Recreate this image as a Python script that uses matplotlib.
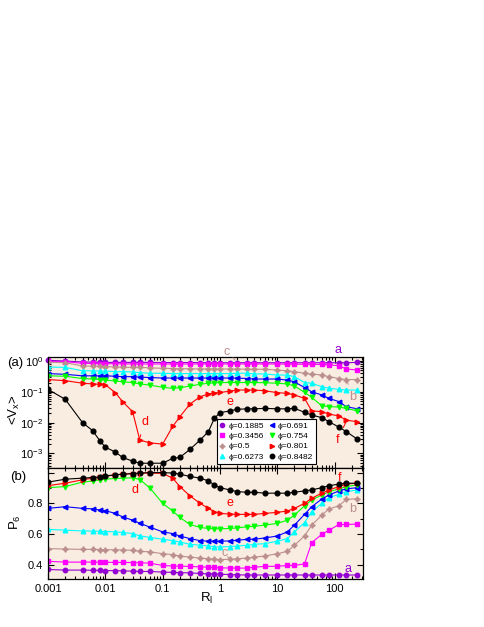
import numpy as np
import matplotlib
matplotlib.use('Agg')
import matplotlib.pyplot as plt
from matplotlib.lines import Line2D
from matplotlib.ticker import FixedLocator, FixedFormatter, LogLocator

plt.rcParams['font.family'] = ['Liberation Sans', 'DejaVu Sans']
plt.rcParams['mathtext.fontset'] = 'custom'
plt.rcParams['mathtext.rm'] = 'Liberation Sans'
plt.rcParams['mathtext.it'] = 'Liberation Sans'

# R_l values (shared by all series)
r_l = [0.001, 0.002, 0.004, 0.006, 0.008, 0.01, 0.015, 0.02, 0.03, 0.04, 0.06,
       0.1, 0.15, 0.2, 0.3, 0.45, 0.63, 0.8, 1, 1.5, 2, 3, 4, 6, 10, 15, 20,
       30, 40, 60, 80, 120, 160, 250]

phi_labels = ['ϕ=0.1885', 'ϕ=0.3456', 'ϕ=0.5', 'ϕ=0.6273',
              'ϕ=0.691', 'ϕ=0.754', 'ϕ=0.801', 'ϕ=0.8482']

# <V_x> (top panel)
vx_01885 = [1.05, 1.0, 0.93, 0.92, 0.91, 0.9, 0.9, 0.9, 0.9, 0.9, 0.9, 0.89, 0.89, 0.89, 0.89, 0.89, 0.88,
            0.88, 0.88, 0.88, 0.88, 0.88, 0.88, 0.88, 0.88, 0.88, 0.88, 0.88, 0.88, 0.88, 0.88, 0.88, 0.88, 0.9]
vx_03456 = [0.97, 0.95, 0.84, 0.83, 0.82, 0.82, 0.81, 0.81, 0.8, 0.8, 0.8, 0.8, 0.8, 0.8, 0.8, 0.8, 0.8,
            0.8, 0.8, 0.8, 0.8, 0.8, 0.8, 0.8, 0.8, 0.79, 0.79, 0.78, 0.78, 0.77, 0.75, 0.7, 0.55, 0.51]
vx_05 = [0.92, 0.88, 0.69, 0.68, 0.67, 0.66, 0.64, 0.63, 0.62, 0.62, 0.6, 0.58, 0.57, 0.56, 0.56, 0.55, 0.55,
         0.55, 0.55, 0.55, 0.55, 0.54, 0.54, 0.54, 0.51, 0.48, 0.45, 0.40, 0.38, 0.35, 0.31, 0.27, 0.25, 0.25]
vx_06273 = [0.64, 0.62, 0.48, 0.48, 0.47, 0.47, 0.45, 0.45, 0.44, 0.42, 0.40, 0.40, 0.39, 0.39, 0.39, 0.39, 0.39,
            0.39, 0.39, 0.39, 0.40, 0.40, 0.38, 0.38, 0.35, 0.35, 0.31, 0.20, 0.19, 0.146, 0.13, 0.12, 0.114, 0.114]
vx_0691 = [0.39, 0.37, 0.33, 0.33, 0.33, 0.33, 0.32, 0.31, 0.31, 0.30, 0.29, 0.28, 0.28, 0.28, 0.28, 0.28, 0.28,
           0.28, 0.28, 0.28, 0.28, 0.27, 0.26, 0.26, 0.26, 0.24, 0.21, 0.137, 0.10, 0.079, 0.061, 0.048, 0.033, 0.028]
vx_0754 = [0.33, 0.32, 0.27, 0.26, 0.25, 0.24, 0.225, 0.21, 0.2, 0.18, 0.165, 0.14, 0.13, 0.135, 0.154, 0.175, 0.19,
           0.195, 0.2, 0.2, 0.2, 0.2, 0.2, 0.197, 0.19, 0.18, 0.154, 0.096, 0.066, 0.035, 0.033, 0.032, 0.029, 0.024]
vx_0801 = [0.25, 0.23, 0.19, 0.18, 0.175, 0.17, 0.093, 0.048, 0.0225, 0.0027, 0.0022, 0.002, 0.0075, 0.0155, 0.040,
           0.069, 0.085, 0.092, 0.095, 0.105, 0.115, 0.114, 0.114, 0.108, 0.094, 0.089, 0.079, 0.061, 0.024, 0.0226,
           0.019, 0.0163, 0.012, 0.0107]
vx_08482 = [0.12, 0.057, 0.01, 0.0055, 0.0026, 0.0016, 0.0011, 7.4e-4, 5.6e-4, 4.8e-4, 4.8e-4, 4.8e-4, 6.9e-4,
            7.4e-4, 1.35e-3, 2.7e-3, 5.1e-3, 0.0138, 0.021, 0.024, 0.027, 0.028, 0.028, 0.029, 0.028, 0.028, 0.029,
            0.0216, 0.0176, 0.0145, 0.0107, 0.0071, 0.0051, 0.0029]

# P_6 (bottom panel)
p6_01885 = [0.369, 0.365, 0.365, 0.364, 0.363, 0.362, 0.361, 0.36, 0.358, 0.356, 0.356, 0.352, 0.35, 0.348, 0.347,
            0.343, 0.34, 0.34, 0.338, 0.336, 0.334, 0.333, 0.333, 0.333, 0.333, 0.333, 0.333, 0.333, 0.333, 0.333,
            0.333, 0.333, 0.333, 0.333]
p6_03456 = [0.422, 0.417, 0.417, 0.417, 0.416, 0.416, 0.415, 0.415, 0.414, 0.413, 0.41, 0.395, 0.392, 0.39, 0.389,
            0.386, 0.384, 0.382, 0.38, 0.378, 0.378, 0.378, 0.384, 0.389, 0.39, 0.395, 0.395, 0.406, 0.544, 0.598,
            0.625, 0.662, 0.662, 0.665]
p6_05 = [0.505, 0.502, 0.5, 0.5, 0.499, 0.498, 0.497, 0.496, 0.494, 0.487, 0.484, 0.472, 0.466, 0.456, 0.45, 0.443,
         0.439, 0.435, 0.434, 0.435, 0.439, 0.443, 0.45, 0.456, 0.472, 0.487, 0.527, 0.587, 0.658, 0.723, 0.763,
         0.784, 0.825, 0.83]
p6_06273 = [0.63, 0.625, 0.62, 0.619, 0.618, 0.616, 0.614, 0.61, 0.603, 0.588, 0.578, 0.566, 0.557, 0.548, 0.533,
            0.527, 0.522, 0.516, 0.516, 0.518, 0.522, 0.527, 0.533, 0.537, 0.553, 0.57, 0.614, 0.675, 0.745, 0.80,
            0.837, 0.859, 0.876, 0.887]
p6_0691 = [0.767, 0.778, 0.767, 0.764, 0.756, 0.752, 0.734, 0.712, 0.69, 0.67, 0.645, 0.614, 0.603, 0.587, 0.57,
           0.557, 0.553, 0.553, 0.553, 0.555, 0.559, 0.566, 0.566, 0.574, 0.587, 0.614, 0.658, 0.728, 0.778, 0.828,
           0.854, 0.881, 0.894, 0.902]
p6_0754 = [0.902, 0.909, 0.938, 0.945, 0.953, 0.957, 0.962, 0.964, 0.966, 0.955, 0.90, 0.80, 0.75, 0.708, 0.662,
           0.643, 0.636, 0.634, 0.634, 0.636, 0.64, 0.647, 0.65, 0.658, 0.669, 0.69, 0.723, 0.784, 0.822, 0.854,
           0.876, 0.894, 0.909, 0.92]
p6_0801 = [0.915, 0.931, 0.953, 0.964, 0.97, 0.975, 0.986, 0.99, 0.994, 0.997, 0.997, 0.995, 0.964, 0.909, 0.848,
           0.80, 0.767, 0.745, 0.734, 0.73, 0.728, 0.728, 0.728, 0.734, 0.741, 0.75, 0.767, 0.80, 0.833, 0.866,
           0.887, 0.909, 0.925, 0.931]
p6_08482 = [0.938, 0.957, 0.964, 0.968, 0.972, 0.979, 0.985, 0.99, 0.993, 0.997, 1.0, 1.0, 0.997, 0.99, 0.975,
            0.964, 0.946, 0.92, 0.902, 0.887, 0.876, 0.872, 0.872, 0.866, 0.866, 0.866, 0.872, 0.881, 0.887, 0.902,
            0.915, 0.925, 0.931, 0.931]

vx_all = [vx_01885, vx_03456, vx_05, vx_06273, vx_0691, vx_0754, vx_0801, vx_08482]
p6_all = [p6_01885, p6_03456, p6_05, p6_06273, p6_0691, p6_0754, p6_0801, p6_08482]

colors = ['#9400d3', '#ff00ff', '#bc8f8f', '#00ffff', '#0000ff', '#00ff00', '#ff0000', '#000000']
markers = ['o', 's', (4, 1, 0), '^', '<', 'v', '>', 'o']
msizes = [3.2, 2.9, 4.0, 3.3, 3.3, 3.3, 3.3, 3.4]
bg = '#f9ece0'

W, H = 485, 627
fig = plt.figure(figsize=(W / 100, H / 100), dpi=100)
ax1 = fig.add_axes([48 / W, 1 - 468 / H, 315 / W, 111 / H])
ax2 = fig.add_axes([48 / W, 1 - 579 / H, 315 / W, 111 / H])

for i in range(len(vx_all)):
    ax1.plot(r_l, vx_all[i], color=colors[i], marker=markers[i], ms=msizes[i], lw=0.8,
             mec=colors[i], mfc=colors[i], clip_on=False if i == 0 else True)
    ax2.plot(r_l, p6_all[i], color=colors[i], marker=markers[i], ms=msizes[i], lw=0.8,
             mec=colors[i], mfc=colors[i])

for ax in (ax1, ax2):
    ax.set_facecolor(bg)
    ax.set_xscale('log')
    ax.set_xlim(1e-3, 10 ** 2.497)
    ax.tick_params(which='both', direction='in', top=True, right=True, labelsize=8, width=0.8)
    ax.tick_params(which='major', length=4.5)
    ax.tick_params(which='minor', length=2.5)
    ax.xaxis.set_minor_locator(LogLocator(base=10, subs=np.arange(2, 10), numticks=20))
    for s in ax.spines.values():
        s.set_linewidth(0.9)

ax1.set_yscale('log')
ax1.set_ylim(10 ** -3.474, 10 ** 0.13)
ax1.yaxis.set_minor_locator(LogLocator(base=10, subs=np.arange(2, 10), numticks=20))
ax1.tick_params(labelbottom=False)

ax2.set_ylim(0.307, 1.03)
ax2.yaxis.set_major_locator(FixedLocator([0.4, 0.6, 0.8, 1.0]))
ax2.yaxis.set_major_formatter(FixedFormatter(['0.4', '0.6', '0.8', '']))
ax2.yaxis.set_minor_locator(FixedLocator([0.5, 0.7, 0.9]))
ax2.set_xticks([0.001, 0.01, 0.1, 1, 10, 100])
ax2.set_xticklabels(['0.001', '0.01', '0.1', '1', '10', '100'])

# legend
handles = [Line2D([], [], ls='none', color=colors[i], marker=markers[i], ms=msizes[i] * 0.95)
           for i in range(len(phi_labels))]
leg = ax1.legend(handles, phi_labels, ncol=2, loc='lower left', bbox_to_anchor=(0.535, 0.04),
                 fontsize=6, frameon=True, fancybox=False, framealpha=1, edgecolor='black',
                 handlelength=0.7, handletextpad=0.35, columnspacing=0.6, labelspacing=0.28,
                 borderpad=0.35, borderaxespad=0)
leg.get_frame().set_linewidth(0.8)

# curve labels
def tag(ax, txt, xy_text, xy_pt, color):
    ax.annotate(txt, xy=xy_pt, xytext=xy_text, color=color, fontsize=9, ha='center', va='center',
                annotation_clip=False,
                arrowprops=dict(arrowstyle='-', color=color, lw=0.7, shrinkA=3, shrinkB=0))

tag(ax1, 'c', (1.33, 1.96), (1.84, 1.08), colors[2])
tag(ax1, 'a', (115, 2.28), (165, 0.95), colors[0])
tag(ax1, 'b', (210, 0.068), (158, 0.28), colors[2])
tag(ax1, 'd', (0.049, 0.0105), (0.040, 0.0032), colors[6])
tag(ax1, 'e', (1.5, 0.046), (1.99, 0.118), colors[6])
tag(ax1, 'f', (111, 0.0027), (165, 0.0121), colors[6])

tag(ax2, 'd', (0.033, 0.887), (0.040, 0.99), colors[6])
tag(ax2, 'e', (1.5, 0.80), (1.99, 0.733), colors[6])
tag(ax2, 'f', (120, 0.966), (165, 0.925), colors[6])
tag(ax2, 'b', (205, 0.763), (158, 0.83), colors[2])
tag(ax2, 'a', (172, 0.372), (168, 0.336), colors[0])
tag(ax2, 'c', (1.23, 0.474), (1.49, 0.434), colors[2])

fig.text(15 / W, 1 - 363 / H, '(a)', fontsize=9.5, ha='center', va='center')
fig.text(18 / W, 1 - 477 / H, '(b)', fontsize=9.5, ha='center', va='center')
fig.text(14 / W, 1 - 410 / H, r'<V$_\mathrm{x}$>', fontsize=9.5, rotation=90, ha='center', va='center')
fig.text(15 / W, 1 - 522 / H, r'P$_\mathrm{6}$', fontsize=9.5, rotation=90, ha='center', va='center')
fig.text(207 / W, 1 - 598 / H, r'R$_\mathrm{l}$', fontsize=9.5, ha='center', va='center')

fig.savefig('out.png', dpi=100)
